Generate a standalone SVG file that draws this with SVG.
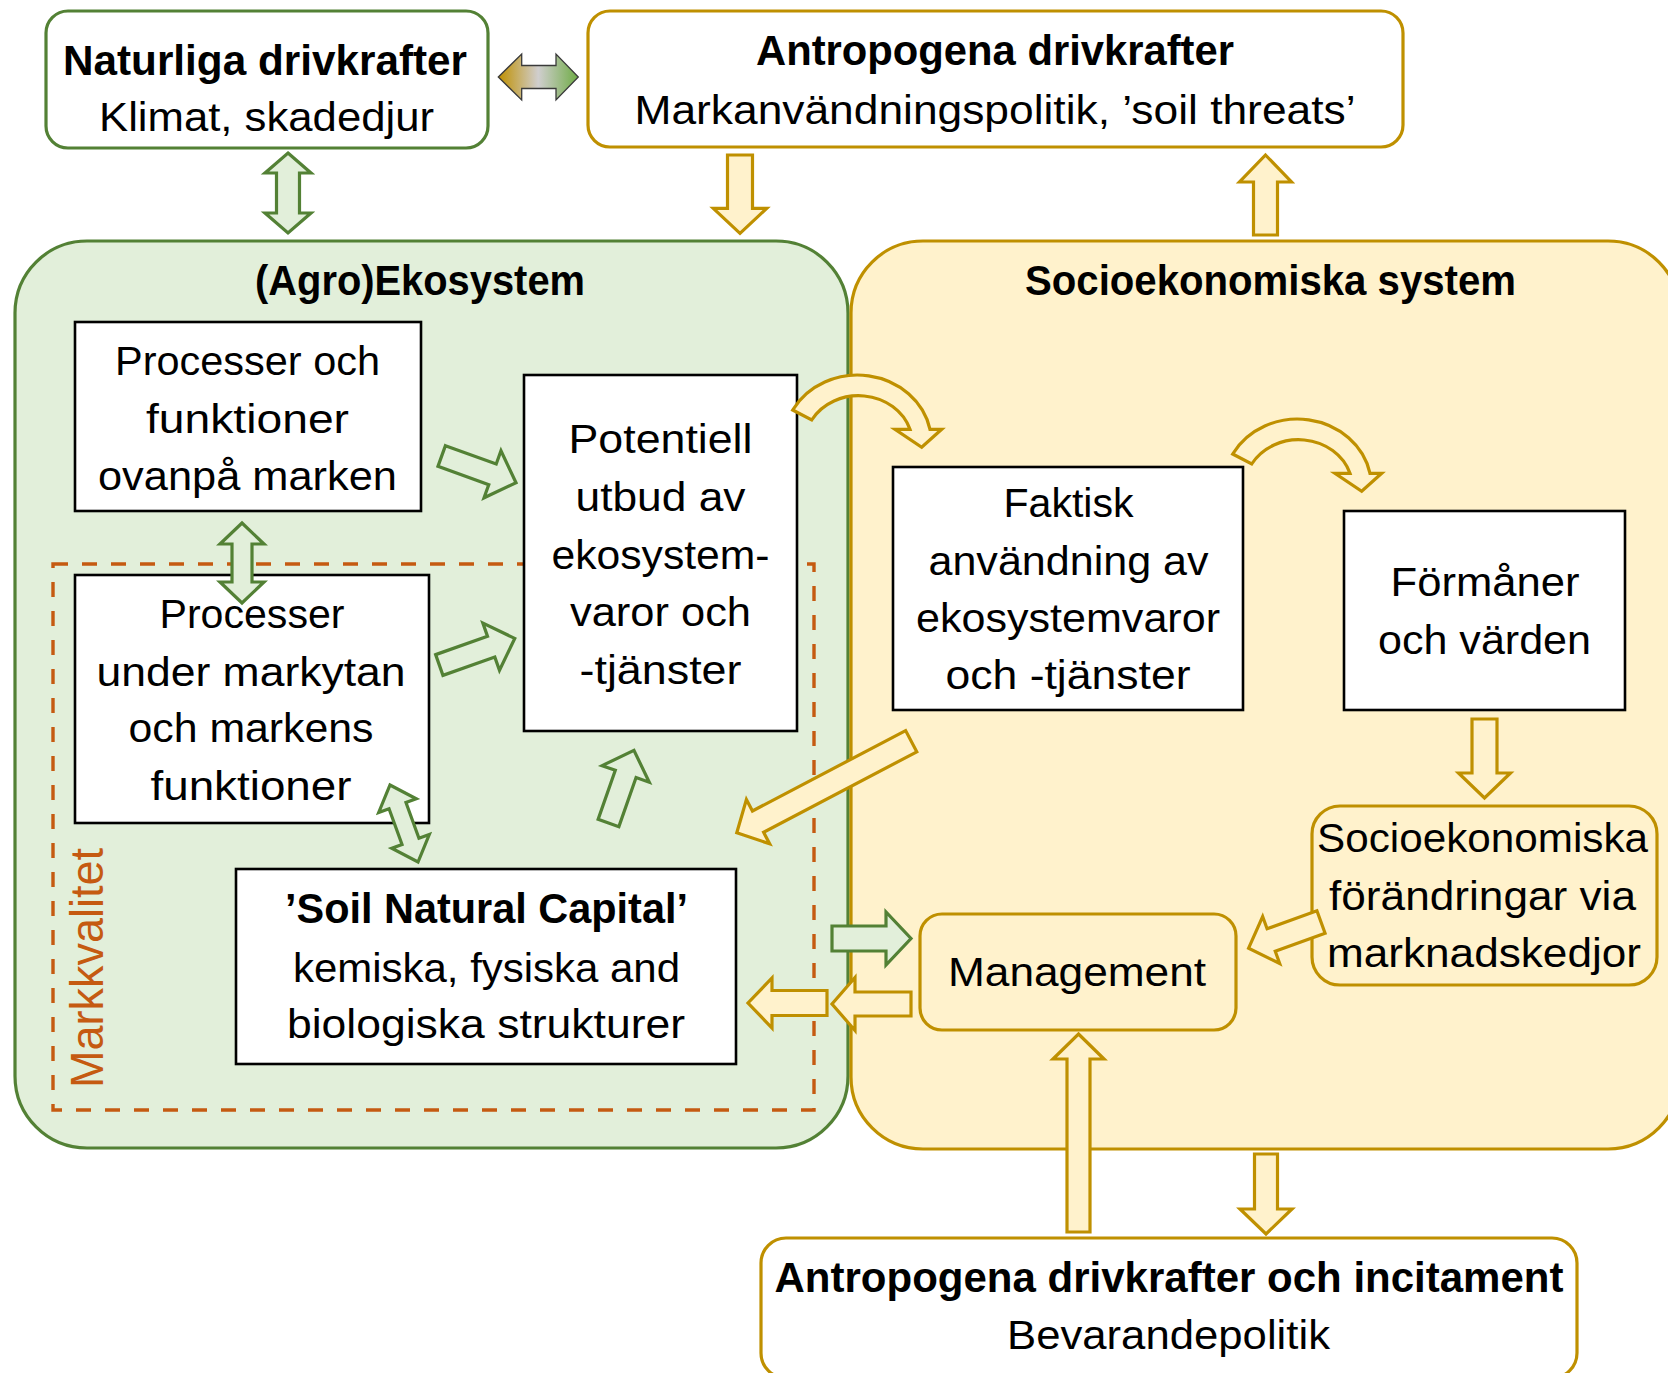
<svg xmlns="http://www.w3.org/2000/svg" width="1668" height="1373" viewBox="0 0 1668 1373">
<defs>
<linearGradient id="gradLR" x1="0" y1="0" x2="1" y2="0">
<stop offset="0" stop-color="#BF9000"/>
<stop offset="0.5" stop-color="#D0CECE"/>
<stop offset="1" stop-color="#6FAC46"/>
</linearGradient>
<path id="curvedArrow" d="M792.7,410 A74,67.7 0 0 1 930,429.3 L941.7,429.3 L921.7,447.3 L895,429.3 L910,429.3 A54,48.3 0 0 0 811.7,420 Z"/>
</defs>
<style>
text{font-family:"Liberation Sans",Arial,sans-serif;fill:#000;text-anchor:middle}
.r{font-size:40px}
.b{font-size:42px;font-weight:bold}
.gbox{fill:#FFFFFF;stroke:#538135;stroke-width:3.2}
.ybox{fill:#FFFFFF;stroke:#BF9000;stroke-width:3.2}
.kbox{fill:#FFFFFF;stroke:#000;stroke-width:2.6}
.garr{fill:#E2EFDA;stroke:#538135;stroke-width:3.2;stroke-linejoin:miter}
.yarr{fill:#FFF2CC;stroke:#BF9000;stroke-width:3.2;stroke-linejoin:miter}
</style>
<rect width="1668" height="1373" fill="#FFFFFF"/>

<g id="agroekosystem">
<rect x="15" y="241" width="833" height="907" rx="72" fill="#E2EFDA" stroke="#538135" stroke-width="3.2"/>
<text class="b" x="420" y="295" textLength="330" lengthAdjust="spacingAndGlyphs">(Agro)Ekosystem</text>
</g>

<g id="socioekonomiska-system">
<rect x="851" y="241" width="829" height="908" rx="72" fill="#FFF2CC" stroke="#BF9000" stroke-width="3.2"/>
<text class="b" x="1270.5" y="295" textLength="491" lengthAdjust="spacingAndGlyphs">Socioekonomiska system</text>
</g>

<g id="markkvalitet">
<rect x="53" y="564" width="761" height="546" fill="none" stroke="#C55A11" stroke-width="3.4" stroke-dasharray="15 14"/>
<text transform="translate(103,968) rotate(-90)" style="font-size:46px;fill:#C55A11" textLength="240" lengthAdjust="spacingAndGlyphs">Markkvalitet</text>
</g>

<g id="naturliga-drivkrafter">
<rect class="gbox" x="46" y="11" width="442" height="137" rx="22"/>
<text class="b" x="265" y="75" textLength="404" lengthAdjust="spacingAndGlyphs">Naturliga drivkrafter</text>
<text class="r" x="266.5" y="131" textLength="335" lengthAdjust="spacingAndGlyphs">Klimat, skadedjur</text>
</g>

<g id="antropogena-drivkrafter">
<rect class="ybox" x="588" y="11" width="815" height="136" rx="22"/>
<text class="b" x="995" y="65" textLength="478" lengthAdjust="spacingAndGlyphs">Antropogena drivkrafter</text>
<text class="r" x="995" y="123.5" textLength="721" lengthAdjust="spacingAndGlyphs">Markanvändningspolitik, ’soil threats’</text>
</g>

<g id="processer-ovanpa">
<rect class="kbox" x="75" y="322" width="346" height="189"/>
<text class="r" x="247.5" y="375" textLength="265" lengthAdjust="spacingAndGlyphs">Processer och</text>
<text class="r" x="247.5" y="433" textLength="203" lengthAdjust="spacingAndGlyphs">funktioner</text>
<text class="r" x="247.5" y="490" textLength="299" lengthAdjust="spacingAndGlyphs">ovanpå marken</text>
</g>

<g id="potentiell-utbud">
<rect class="kbox" x="524" y="375" width="273" height="356"/>
<text class="r" x="660.5" y="453" textLength="184" lengthAdjust="spacingAndGlyphs">Potentiell</text>
<text class="r" x="660.5" y="510.5" textLength="170" lengthAdjust="spacingAndGlyphs">utbud av</text>
<text class="r" x="660.5" y="568.5" textLength="218" lengthAdjust="spacingAndGlyphs">ekosystem-</text>
<text class="r" x="660.5" y="626" textLength="181" lengthAdjust="spacingAndGlyphs">varor och</text>
<text class="r" x="660.5" y="683.5" textLength="162" lengthAdjust="spacingAndGlyphs">-tjänster</text>
</g>

<g id="processer-under">
<rect class="kbox" x="75" y="575" width="354" height="248"/>
<text class="r" x="252" y="628" textLength="185" lengthAdjust="spacingAndGlyphs">Processer</text>
<text class="r" x="251" y="685.5" textLength="309" lengthAdjust="spacingAndGlyphs">under markytan</text>
<text class="r" x="251" y="742" textLength="245" lengthAdjust="spacingAndGlyphs">och markens</text>
<text class="r" x="251" y="800" textLength="201" lengthAdjust="spacingAndGlyphs">funktioner</text>
</g>

<g id="soil-natural-capital">
<rect class="kbox" x="236" y="869" width="500" height="195"/>
<text class="b" x="486.5" y="923" textLength="403" lengthAdjust="spacingAndGlyphs">’Soil Natural Capital’</text>
<text class="r" x="486.5" y="982" textLength="387" lengthAdjust="spacingAndGlyphs">kemiska, fysiska and</text>
<text class="r" x="486" y="1038" textLength="398" lengthAdjust="spacingAndGlyphs">biologiska strukturer</text>
</g>

<g id="faktisk-anvandning">
<rect class="kbox" x="893" y="467" width="350" height="243"/>
<text class="r" x="1068.5" y="517" textLength="130" lengthAdjust="spacingAndGlyphs">Faktisk</text>
<text class="r" x="1068.5" y="574.5" textLength="280" lengthAdjust="spacingAndGlyphs">användning av</text>
<text class="r" x="1068" y="632" textLength="304" lengthAdjust="spacingAndGlyphs">ekosystemvaror</text>
<text class="r" x="1068" y="689" textLength="245" lengthAdjust="spacingAndGlyphs">och -tjänster</text>
</g>

<g id="formaner">
<rect class="kbox" x="1344" y="511" width="281" height="199"/>
<text class="r" x="1485" y="595.5" textLength="189" lengthAdjust="spacingAndGlyphs">Förmåner</text>
<text class="r" x="1484.5" y="654" textLength="213" lengthAdjust="spacingAndGlyphs">och värden</text>
</g>

<g id="socioekonomiska-forandringar">
<rect x="1312" y="806" width="345" height="179" rx="28" fill="#FFF2CC" stroke="#BF9000" stroke-width="3.2"/>
<text class="r" x="1482.5" y="852" textLength="331" lengthAdjust="spacingAndGlyphs">Socioekonomiska</text>
<text class="r" x="1482.5" y="910" textLength="307" lengthAdjust="spacingAndGlyphs">förändringar via</text>
<text class="r" x="1484" y="967" textLength="314" lengthAdjust="spacingAndGlyphs">marknadskedjor</text>
</g>

<g id="management">
<rect x="920" y="914" width="316" height="116" rx="22" fill="#FFF2CC" stroke="#BF9000" stroke-width="3.2"/>
<text class="r" x="1077" y="986" textLength="258" lengthAdjust="spacingAndGlyphs">Management</text>
</g>

<g id="antropogena-incitament">
<rect class="ybox" x="761" y="1238" width="816" height="140" rx="25"/>
<text class="b" x="1169" y="1292" textLength="789" lengthAdjust="spacingAndGlyphs">Antropogena drivkrafter och incitament</text>
<text class="r" x="1168.5" y="1349" textLength="323" lengthAdjust="spacingAndGlyphs">Bevarandepolitik</text>
</g>

<g id="connectors">
<!-- Naturliga <-> Antropogena (gradient) -->
<path d="M498.3,77 L521.7,54 V65.5 H556 V54 L578.3,77 L556,100 V88.5 H521.7 V100 Z" fill="url(#gradLR)" stroke="#3A3A3A" stroke-width="1.3"/>
<!-- Naturliga <-> Agro -->
<path class="garr" d="M288,153 L311,173 H299.5 V213 H311 L288,233 L265,213 H276.5 V173 H265 Z"/>
<!-- Antropogena -> Agro -->
<path class="yarr" d="M727.5,155 H752.5 V208.3 H766.7 L740,233.3 L713.3,208.3 H727.5 Z"/>
<!-- Socio -> Antropogena -->
<path class="yarr" d="M1265.5,155 L1291.5,182 H1277.5 V235 H1253.5 V182 H1239.5 Z"/>
<!-- Processer ovanpa -> Potentiell -->
<path class="garr" transform="translate(441.7,456) rotate(19.8)" d="M0,-11 H54 V-25 L79,0 L54,25 V11 H0 Z"/>
<!-- Processer under -> Potentiell -->
<path class="garr" transform="translate(439.3,665) rotate(-19.4)" d="M0,-11 H55 V-25 L80,0 L55,25 V11 H0 Z"/>
<!-- Processer ovanpa <-> Processer under -->
<path class="garr" d="M242,523 L264,544 H252 V582 H264 L242,603 L220,582 H232 V544 H220 Z"/>
<!-- Processer under <-> Soil -->
<path class="garr" transform="translate(404,823.5) rotate(70)" d="M-41,0 L-19,-20 V-9 H19 V-20 L41,0 L19,20 V9 H-19 V20 Z"/>
<!-- Soil -> Potentiell -->
<path class="garr" transform="translate(608.5,823) rotate(-70.7)" d="M0,-11 H52 V-25 L77,0 L52,25 V11 H0 Z"/>
<!-- Potentiell -> Faktisk (curved) -->
<use href="#curvedArrow" class="yarr"/>
<!-- Faktisk -> Formaner (curved) -->
<use href="#curvedArrow" class="yarr" transform="translate(440,44)"/>
<!-- Faktisk -> Soil (diagonal) -->
<path class="yarr" transform="translate(911.2,741.2) rotate(152.3)" d="M0,-12 H173 V-25 L197,0 L173,25 V12 H0 Z"/>
<!-- Formaner -> Socio forandringar -->
<path class="yarr" d="M1472,719 H1497 V773 H1510.5 L1484.5,798 L1458.5,773 H1472 Z"/>
<!-- Socio forandringar -> Management -->
<path class="yarr" transform="translate(1321,922) rotate(160.1)" d="M0,-12 H53 V-25 L77,0 L53,25 V12 H0 Z"/>
<!-- Agro -> Management (green) -->
<path class="garr" d="M832,926 H886 V912 L911,938.5 L886,965 V951 H832 Z"/>
<!-- Management -> Agro (gold) -->
<path class="yarr" d="M911,992 H855 V977.5 L832,1004 L855,1030.5 V1016 H911 Z"/>
<!-- into Soil (gold) -->
<path class="yarr" d="M827,990.5 H772 V978 L748,1003 L772,1028 V1015.5 H827 Z"/>
<!-- Bottom -> Management -->
<path class="yarr" d="M1078.5,1034 L1104,1059 H1090 V1232 H1067 V1059 H1053 Z"/>
<!-- Socio -> Bottom -->
<path class="yarr" d="M1254.5,1154 H1277.5 V1209 H1292 L1266,1234 L1240,1209 H1254.5 Z"/>
</g>
</svg>
